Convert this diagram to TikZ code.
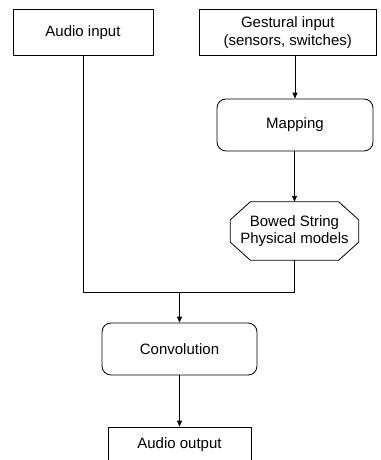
\documentclass[tikz,border=0pt]{standalone}
\usepackage{fontspec}
\setmainfont{Liberation Sans}
\usetikzlibrary{arrows.meta}
\begin{document}
\begin{tikzpicture}[x=1pt,y=1pt,
  every node/.style={font=\fontsize{15}{17.5}\selectfont, align=center, inner sep=0pt},
  sqbox/.style={draw, line width=0.8pt, rectangle},
  rndbox/.style={draw, line width=0.8pt, rectangle, rounded corners=9pt},
  octarea/.style={rectangle},
  wire/.style={line width=0.8pt},
  arr/.style={line width=0.8pt, -{Triangle[length=6pt,width=5pt]}}]
  \useasboundingbox (0,0) rectangle (380,-460);
  \fill[white] (0,0) rectangle (380,-460);
  \begin{scope}
  \clip (0,0) rectangle (380,-460);
  % input blocks
  \node[sqbox, minimum width=140pt, minimum height=46pt] (ain) at (83,-32.5) {Audio input};
  \node[sqbox, minimum width=177.5pt, minimum height=46pt] (gin) at (287.75,-32.5) {Gestural input\\(sensors, switches)};
  % processing chain for the gestural branch
  \node[rndbox, minimum width=156pt, minimum height=52pt] (map) at (295,-125) {Mapping};
  \node[octarea, minimum width=128pt, minimum height=58pt] (oct) at (294.5,-231) {Bowed String\\Physical models};
  % octagonal outline with 20pt x 18pt cut corners
  \draw[wire, line join=miter]
    ([xshift=20pt]oct.north west) -- ([xshift=-20pt]oct.north east)
    -- ([yshift=-18pt]oct.north east) -- ([yshift=18pt]oct.south east)
    -- ([xshift=-20pt]oct.south east) -- ([xshift=20pt]oct.south west)
    -- ([yshift=18pt]oct.south west) -- ([yshift=-18pt]oct.north west) -- cycle;
  % merge, convolution and output
  \coordinate (bus) at (179.5,-292.5);
  \node[rndbox, minimum width=155pt, minimum height=52pt] (conv) at (179.5,-349) {Convolution};
  \node[sqbox, minimum width=143pt, minimum height=35pt] (aout) at (179.5,-444.5) {Audio output};
  % connectors
  \draw[arr] (gin.south -| map.north) -- (map.north);
  \draw[arr] (map.south -| oct.north) -- (oct.north);
  \draw[wire] (ain.south) |- (bus -| oct.south) -- (oct.south);
  \draw[arr] (bus) -- (conv.north);
  \draw[arr] (conv.south) -- (aout.north);
  \end{scope}
\end{tikzpicture}
\end{document}
